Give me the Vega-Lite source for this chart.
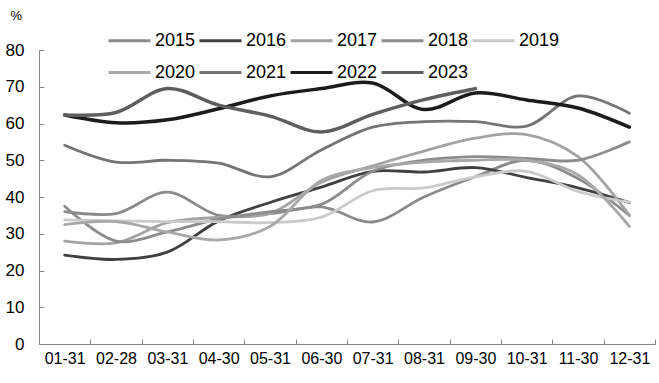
{
  "$schema": "https://vega.github.io/schema/vega-lite/v6.json",
  "width": 616,
  "height": 294,
  "autosize": {"type": "none"},
  "padding": {"left": 39, "top": 50, "right": 4, "bottom": 39},
  "background": "white",
  "config": {"view": {"stroke": null}, "font": "Liberation Sans"},
  "datasets": {
    "rows": [
      {"d":"01-31","y":"2015","v":36},{"d":"02-28","y":"2015","v":35.5},{"d":"03-31","y":"2015","v":41.3},{"d":"04-30","y":"2015","v":35},{"d":"05-31","y":"2015","v":35.5},{"d":"06-30","y":"2015","v":37.3},{"d":"07-31","y":"2015","v":33.2},{"d":"08-31","y":"2015","v":40},{"d":"09-30","y":"2015","v":45.5},{"d":"10-31","y":"2015","v":50},{"d":"11-30","y":"2015","v":45},{"d":"12-31","y":"2015","v":35},
      {"d":"01-31","y":"2016","v":24.2},{"d":"02-28","y":"2016","v":23},{"d":"03-31","y":"2016","v":25},{"d":"04-30","y":"2016","v":33.5},{"d":"05-31","y":"2016","v":38.5},{"d":"06-30","y":"2016","v":42.7},{"d":"07-31","y":"2016","v":47},{"d":"08-31","y":"2016","v":46.8},{"d":"09-30","y":"2016","v":48},{"d":"10-31","y":"2016","v":45.3},{"d":"11-30","y":"2016","v":42.5},{"d":"12-31","y":"2016","v":38.5},
      {"d":"01-31","y":"2017","v":28},{"d":"02-28","y":"2017","v":27.5},{"d":"03-31","y":"2017","v":33},{"d":"04-30","y":"2017","v":34.5},{"d":"05-31","y":"2017","v":35.5},{"d":"06-30","y":"2017","v":44},{"d":"07-31","y":"2017","v":48.5},{"d":"08-31","y":"2017","v":52.5},{"d":"09-30","y":"2017","v":56},{"d":"10-31","y":"2017","v":57},{"d":"11-30","y":"2017","v":51},{"d":"12-31","y":"2017","v":35},
      {"d":"01-31","y":"2018","v":37.5},{"d":"02-28","y":"2018","v":28},{"d":"03-31","y":"2018","v":30.5},{"d":"04-30","y":"2018","v":34},{"d":"05-31","y":"2018","v":36},{"d":"06-30","y":"2018","v":38},{"d":"07-31","y":"2018","v":47},{"d":"08-31","y":"2018","v":50},{"d":"09-30","y":"2018","v":51},{"d":"10-31","y":"2018","v":50.5},{"d":"11-30","y":"2018","v":50},{"d":"12-31","y":"2018","v":55},
      {"d":"01-31","y":"2019","v":33.8},{"d":"02-28","y":"2019","v":33.5},{"d":"03-31","y":"2019","v":33.3},{"d":"04-30","y":"2019","v":33.3},{"d":"05-31","y":"2019","v":33},{"d":"06-30","y":"2019","v":34.5},{"d":"07-31","y":"2019","v":41.7},{"d":"08-31","y":"2019","v":42.5},{"d":"09-30","y":"2019","v":45.5},{"d":"10-31","y":"2019","v":47},{"d":"11-30","y":"2019","v":41.5},{"d":"12-31","y":"2019","v":38.6},
      {"d":"01-31","y":"2020","v":32.5},{"d":"02-28","y":"2020","v":33.3},{"d":"03-31","y":"2020","v":30.5},{"d":"04-30","y":"2020","v":28.3},{"d":"05-31","y":"2020","v":32},{"d":"06-30","y":"2020","v":44.5},{"d":"07-31","y":"2020","v":48},{"d":"08-31","y":"2020","v":49.5},{"d":"09-30","y":"2020","v":50},{"d":"10-31","y":"2020","v":50},{"d":"11-30","y":"2020","v":46},{"d":"12-31","y":"2020","v":32},
      {"d":"01-31","y":"2021","v":54.1},{"d":"02-28","y":"2021","v":49.5},{"d":"03-31","y":"2021","v":50},{"d":"04-30","y":"2021","v":49.2},{"d":"05-31","y":"2021","v":45.5},{"d":"06-30","y":"2021","v":52.8},{"d":"07-31","y":"2021","v":59},{"d":"08-31","y":"2021","v":60.5},{"d":"09-30","y":"2021","v":60.5},{"d":"10-31","y":"2021","v":59.3},{"d":"11-30","y":"2021","v":67.5},{"d":"12-31","y":"2021","v":62.8},
      {"d":"01-31","y":"2022","v":62.3},{"d":"02-28","y":"2022","v":60.2},{"d":"03-31","y":"2022","v":61},{"d":"04-30","y":"2022","v":64},{"d":"05-31","y":"2022","v":67.5},{"d":"06-30","y":"2022","v":69.5},{"d":"07-31","y":"2022","v":71},{"d":"08-31","y":"2022","v":63.8},{"d":"09-30","y":"2022","v":68.3},{"d":"10-31","y":"2022","v":66.4},{"d":"11-30","y":"2022","v":64.2},{"d":"12-31","y":"2022","v":59},
      {"d":"01-31","y":"2023","v":62.3},{"d":"02-28","y":"2023","v":63},{"d":"03-31","y":"2023","v":69.5},{"d":"04-30","y":"2023","v":65},{"d":"05-31","y":"2023","v":62},{"d":"06-30","y":"2023","v":57.7},{"d":"07-31","y":"2023","v":62.5},{"d":"08-31","y":"2023","v":66.5},{"d":"09-30","y":"2023","v":69.5}
    ]
  },
  "data": {"name": "rows"},
  "mark": {"type": "line", "interpolate": "catmull-rom", "strokeCap": "round"},
  "encoding": {
    "x": {
      "field": "d", "type": "ordinal",
      "scale": {"type": "band", "paddingInner": 0, "paddingOuter": 0},
      "axis": {"title": null, "labelAngle": 0, "tickBand": "extent", "tickSize": -5, "labelPadding": 11, "domainColor": "#888888", "tickColor": "#888888", "labelFontSize": 16, "labelColor": "#000000"}
    },
    "y": {
      "field": "v", "type": "quantitative",
      "scale": {"domain": [0, 80], "nice": false},
      "axis": {"values": [0,10,20,30,40,50,60,70,80], "grid": false, "tickSize": -5, "labelPadding": 20, "domainColor": "#888888", "tickColor": "#888888", "labelFontSize": 17, "labelColor": "#000000",
        "title": "%", "titleAngle": 0, "titleAlign": "left", "titleBaseline": "middle", "titleX": -29, "titleY": -35, "titleFontSize": 13, "titleFontWeight": "normal"}
    },
    "color": {
      "field": "y", "type": "nominal",
      "scale": {"domain": ["2015","2016","2017","2018","2019","2020","2021","2022","2023"],
                "range": ["#8a8a8a","#404040","#a3a3a3","#8c8c8c","#cacaca","#a8a8a8","#747474","#1c1c1c","#5e5e5e"]},
      "legend": {"orient": "none", "legendX": 68, "legendY": -32, "direction": "horizontal", "columns": 5, "title": null,
        "symbolType": "stroke", "symbolSize": 1764, "symbolStrokeWidth": 3, "labelFontSize": 18, "labelColor": "#000000", "labelOffset": 3, "columnPadding": -3, "rowPadding": -13, "symbolLimit": 0}
    },
    "strokeWidth": {
      "condition": {"test": "datum.y === '2022' || datum.y === '2023'", "value": 3.5}, "value": 2.8
    }
  }
}
